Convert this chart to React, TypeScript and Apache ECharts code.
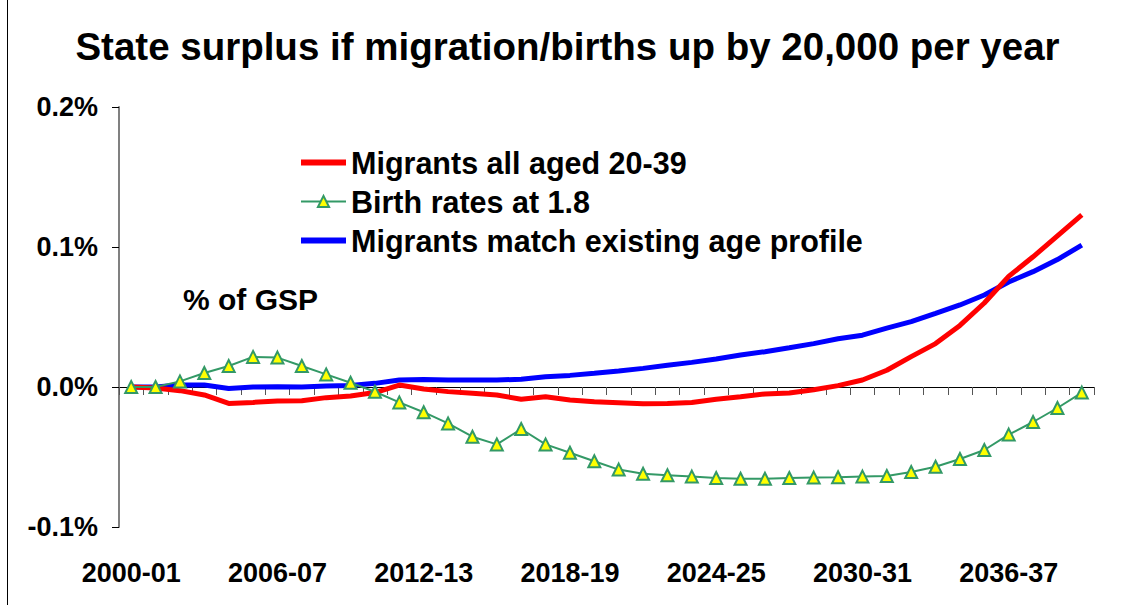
import React, { useEffect, useRef } from "react";
import * as echarts from "echarts";

const categories = [
  "2000-01", "2001-02", "2002-03", "2003-04", "2004-05", "2005-06", "2006-07", "2007-08",
  "2008-09", "2009-10", "2010-11", "2011-12", "2012-13", "2013-14", "2014-15", "2015-16",
  "2016-17", "2017-18", "2018-19", "2019-20", "2020-21", "2021-22", "2022-23", "2023-24",
  "2024-25", "2025-26", "2026-27", "2027-28", "2028-29", "2029-30", "2030-31", "2031-32",
  "2032-33", "2033-34", "2034-35", "2035-36", "2036-37", "2037-38", "2038-39", "2039-40",
];

const migrantsYoung = [
  0, -0.0007, -0.0026, -0.0057, -0.0117, -0.011, -0.01, -0.0098, -0.0076, -0.0064,
  -0.004, 0.0014, -0.0014, -0.0033, -0.0045, -0.0057, -0.0088, -0.007, -0.0093, -0.0105,
  -0.0112, -0.012, -0.0117, -0.011, -0.0088, -0.007, -0.005, -0.0043, -0.002, 0.001,
  0.005, 0.012, 0.0217, 0.031, 0.044, 0.06, 0.079, 0.093, 0.108, 0.123,
];

const birthRates = [
  0, 0, 0.004, 0.01, 0.015, 0.0215, 0.021, 0.015, 0.009, 0.003,
  -0.0034, -0.011, -0.018, -0.026, -0.0355, -0.041, -0.03, -0.041, -0.047, -0.053,
  -0.059, -0.062, -0.063, -0.064, -0.065, -0.0655, -0.0655, -0.065, -0.0647, -0.0645,
  -0.064, -0.0636, -0.0607, -0.057, -0.0514, -0.045, -0.034, -0.025, -0.015, -0.004,
];

const migrantsMatch = [
  0, 0, 0.0014, 0.0014, -0.001, 0, 0.0002, 0, 0.0007, 0.001,
  0.0026, 0.005, 0.0054, 0.005, 0.005, 0.005, 0.0055, 0.0074, 0.0083, 0.0098,
  0.0114, 0.0133, 0.0155, 0.0176, 0.02, 0.0229, 0.0252, 0.028, 0.031, 0.0345,
  0.037, 0.042, 0.0467, 0.0526, 0.0586, 0.0657, 0.075, 0.0824, 0.091, 0.1014,
];

const seriesNames = [
  "Migrants all aged 20-39",
  "Birth rates at 1.8",
  "Migrants match existing age profile",
];

const titleText = "State surplus if migration/births up by 20,000 per year";
const unitText = "% of GSP";

const FONT = "'Liberation Sans', Arial, Helvetica, sans-serif";

export default function App() {
  const ref = useRef<HTMLDivElement>(null);

  useEffect(() => {
    if (!ref.current) return;
    const chart = echarts.init(ref.current, undefined, { renderer: "svg" });
    const hiddenSymbol = { color: "rgba(0,0,0,0)", borderWidth: 0, opacity: 0 };
    chart.setOption({
      animation: false,
      backgroundColor: "#ffffff",
      title: {
        text: titleText,
        left: "center",
        top: 22,
        textStyle: { fontFamily: FONT, fontSize: 38.5, fontWeight: "bold", color: "#000" },
      },
      legend: {
        orient: "vertical",
        left: 293,
        top: 142,
        itemWidth: 45,
        itemHeight: 14,
        itemGap: 8,
        data: [
          { name: seriesNames[0], itemStyle: hiddenSymbol, lineStyle: { color: "#ff0000", width: 6 } },
          { name: seriesNames[1] },
          { name: seriesNames[2], itemStyle: hiddenSymbol, lineStyle: { color: "#0000ff", width: 6 } },
        ],
        textStyle: {
          fontFamily: FONT,
          fontSize: 30.5,
          fontWeight: "bold",
          color: "#000",
          lineHeight: 30,
        },
      },
      graphic: [
        {
          type: "text",
          left: 183,
          top: 284,
          style: {
            text: unitText,
            fontFamily: FONT,
            fontSize: 30,
            fontWeight: "bold",
            fill: "#000",
          },
        },
        {
          type: "line",
          shape: { x1: 7.5, y1: 0, x2: 7.5, y2: 605 },
          style: { stroke: "#000", lineWidth: 1 },
        },
      ],
      grid: { left: 119, right: 41, top: 107, bottom: 78, containLabel: false },
      xAxis: [
        {
          type: "category",
          data: categories,
          position: "top",
          boundaryGap: true,
          axisLine: { show: true, onZero: true, lineStyle: { color: "#000", width: 1 } },
          axisTick: { show: true, inside: true, length: 8, interval: 0, lineStyle: { color: "#555", width: 1 } },
          axisLabel: { show: false },
          splitLine: { show: false },
        },
        {
          type: "category",
          data: categories,
          position: "bottom",
          boundaryGap: true,
          axisLine: { show: false, onZero: false },
          axisTick: { show: false },
          axisLabel: {
            show: true,
            interval: 5,
            margin: 32,
            fontFamily: FONT,
            fontSize: 27,
            fontWeight: "bold",
            color: "#000",
          },
          splitLine: { show: false },
        },
      ],
      yAxis: {
        type: "value",
        min: -0.1,
        max: 0.2,
        interval: 0.1,
        axisLine: { show: true, lineStyle: { color: "#808080", width: 2 } },
        axisTick: { show: true, length: 7, lineStyle: { color: "#000", width: 1 } },
        axisLabel: {
          margin: 21,
          fontFamily: FONT,
          fontSize: 27,
          fontWeight: "bold",
          color: "#000",
          formatter: (v: number) => v.toFixed(1) + "%",
        },
        splitLine: { show: false },
      },
      series: [
        {
          name: seriesNames[0],
          type: "line",
          xAxisIndex: 0,
          data: migrantsYoung,
          symbol: "none",
          lineStyle: { color: "#ff0000", width: 5 },
          itemStyle: { color: "#ff0000" },
          z: 3,
        },
        {
          name: seriesNames[1],
          type: "line",
          xAxisIndex: 0,
          data: birthRates,
          symbol: "triangle",
          symbolSize: 12,
          lineStyle: { color: "#339966", width: 2 },
          itemStyle: { color: "#ffff00", borderColor: "#339966", borderWidth: 2 },
          z: 4,
        },
        {
          name: seriesNames[2],
          type: "line",
          xAxisIndex: 0,
          data: migrantsMatch,
          symbol: "none",
          lineStyle: { color: "#0000ff", width: 5 },
          itemStyle: { color: "#0000ff" },
          z: 2,
        },
      ],
    });
    return () => chart.dispose();
  }, []);

  return (
    <div
      ref={ref}
      style={{ position: "fixed", left: 0, top: 0, width: 1135, height: 605 }}
    />
  );
}
